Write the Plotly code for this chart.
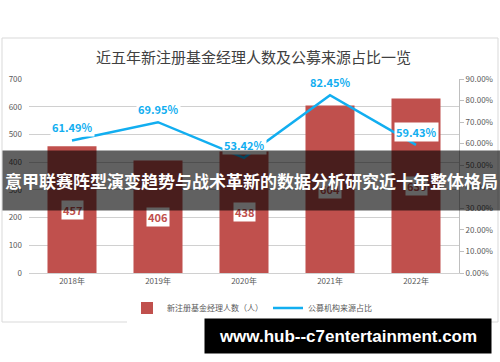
import plotly.graph_objects as go

years = ['2018年', '2019年', '2020年', '2021年', '2022年']
managers = [457, 406, 438, 604, 630]
ratios = [0.6149, 0.6995, 0.5342, 0.8245, 0.5943]
ratio_labels = ['61.49%', '69.95%', '53.42%', '82.45%', '59.43%']

title_text = '近五年新注册基金经理人数及公募来源占比一览'
banner_text = '意甲联赛阵型演变趋势与战术革新的数据分析研究近十年整体格局'
watermark_text = 'www.hub--c7entertainment.com'

W, H = 500, 362
L, R, T, B = 29, 459, 79, 273
pw, ph = R - L, B - T


def px(x):
    return (x - L) / pw


def py(y):
    return (B - y) / ph


FONT = 'Noto Sans CJK SC, Noto Sans, sans-serif'
RED = '#c0504d'
BLUE = '#12aef0'
GREY = '#595959'

fig = go.Figure()
fig.add_trace(go.Bar(
    x=years, y=managers, name='新注册基金经理人数（人）',
    marker=dict(color=RED, line=dict(width=0)), yaxis='y',
))
fig.add_trace(go.Scatter(
    x=years, y=ratios, name='公募机构来源占比', mode='lines',
    line=dict(color=BLUE, width=2.5), yaxis='y2',
))

annotations = []
# bar labels (centered in bars)
for yr, v in zip(years, managers):
    annotations.append(dict(
        x=yr, y=v / 2, xref='x', yref='y', text=f'<b>{v}</b>', showarrow=False,
        font=dict(size=11, color=RED, family=FONT), bgcolor='white', borderpad=1,
    ))
# line labels
for yr, v, t in zip(years, ratios, ratio_labels):
    annotations.append(dict(
        x=yr, y=v, xref='x', yref='y2', text=f'<b>{t}</b>', showarrow=False,
        yshift=13, font=dict(size=11, color=BLUE, family=FONT), bgcolor='white', borderpad=1,
    ))
# title
annotations.append(dict(
    x=px(253), y=py(57), xref='paper', yref='paper', text=title_text, showarrow=False,
    font=dict(size=15, color='#404040', family=FONT), xanchor='center', yanchor='middle',
))
# banner overlay
annotations.append(dict(
    x=px(251.5), y=py(180.5), xref='paper', yref='paper', text=f'<b>{banner_text}</b>',
    showarrow=False, width=497, height=59, borderpad=0, bgcolor='rgba(0,0,0,0.62)',
    font=dict(size=17, color='white', family=FONT), xanchor='center', yanchor='middle',
))
# watermark
annotations.append(dict(
    x=px(348), y=py(336), xref='paper', yref='paper', text=f'<b>{watermark_text}</b>',
    showarrow=False, width=286, height=34, borderpad=0, bgcolor='black',
    font=dict(size=17, color='white', family='Liberation Sans, Arial, sans-serif'),
    xanchor='center', yanchor='middle',
))

shapes = [dict(
    type='rect', xref='paper', yref='paper', x0=px(2), x1=px(498), y0=py(322), y1=py(38),
    line=dict(color='#d9d9d9', width=1), fillcolor='rgba(0,0,0,0)', layer='below',
)]

fig.update_layout(
    width=W, height=H,
    margin=dict(l=L, r=W - R, t=T, b=H - B, pad=0, autoexpand=False),
    paper_bgcolor='white', plot_bgcolor='white',
    font=dict(family=FONT, size=8, color=GREY),
    bargap=0.43,
    showlegend=True,
    legend=dict(orientation='h', x=px(252), xanchor='center', y=py(308), yanchor='middle',
                font=dict(size=8, color=GREY, family=FONT), itemwidth=30,
                traceorder='normal'),
    xaxis=dict(showgrid=False, showline=True, linecolor='#d0d0d0', ticks='',
               tickfont=dict(size=8, color=GREY)),
    yaxis=dict(range=[0, 700], dtick=100, showgrid=True, gridcolor='#d0d0d0', gridwidth=1,
               zeroline=False, showline=False, ticks='', tickfont=dict(size=8, color=GREY),
               ticklabelstandoff=6),
    yaxis2=dict(range=[0, 0.9], dtick=0.1, tickformat='.2%', overlaying='y', side='right',
                showgrid=False, zeroline=False, showline=True, linecolor='#bfbfbf',
                ticks='outside', ticklen=4, tickcolor='#bfbfbf',
                tickfont=dict(size=8, color=GREY)),
    annotations=annotations,
    shapes=shapes,
)

fig.write_html('out.html', config={'displayModeBar': False},
               post_script="document.body.style.margin='0';")
